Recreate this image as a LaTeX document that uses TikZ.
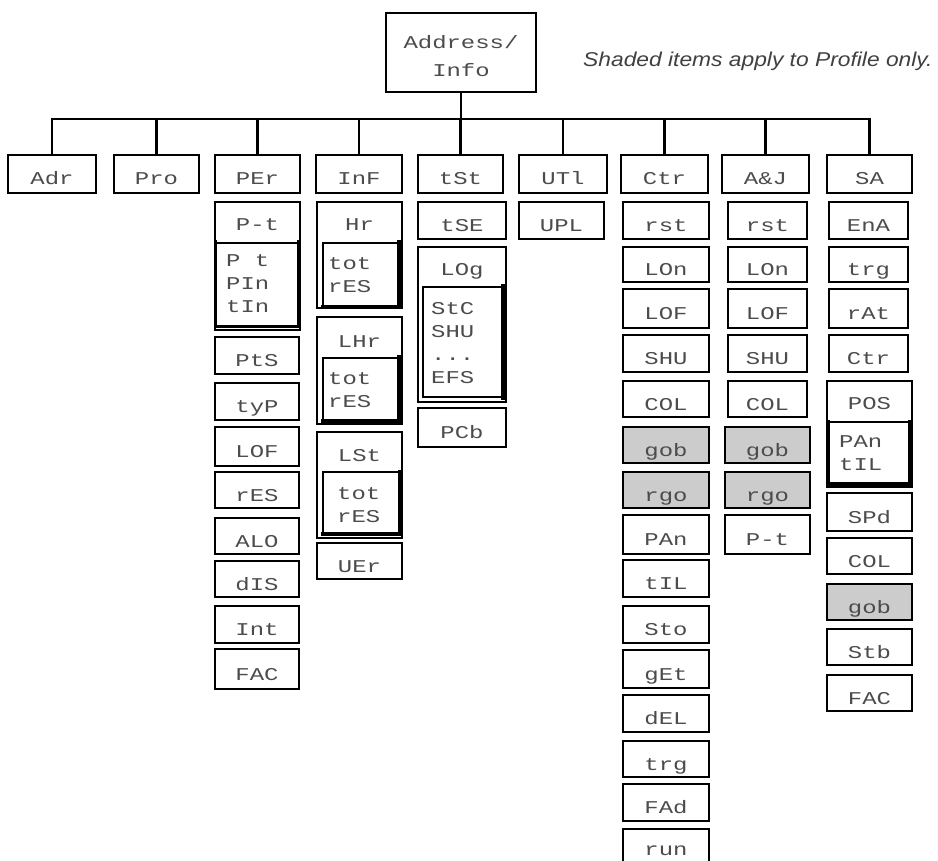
\documentclass[tikz,border=0pt]{standalone}
\usepackage{fontspec}
\newfontfamily\lblfont[FakeStretch=1.33]{Liberation Mono}
\newfontfamily\notefont[FakeStretch=1.14]{Liberation Sans}
\tikzset{
  bx/.style={draw, line width=1.7pt, inner sep=0pt, text height=22pt, text depth=0pt,
             font=\lblfont\fontsize{18}{23}\selectfont, text=black!70},
  shaded/.style={fill=black!20},
  grp/.style={draw, line width=1.7pt, inner sep=0pt},
  inr/.style={draw, line width=1.5pt, inner sep=0pt},
  shadowline/.style={line width=3.5pt, line cap=rect},
  hdr/.style={anchor=base, inner sep=0pt, font=\lblfont\fontsize{18}{23}\selectfont, text=black!70},
  itxt/.style={anchor=north west, inner sep=0pt, align=left, font=\lblfont\fontsize{18}{23}\selectfont, text=black!70},
  conn/.style={line width=2.6pt},
  note/.style={anchor=base west, inner sep=0pt, font=\notefont\itshape\fontsize{20}{24}\selectfont, text=black!75}
}
% box: [options] name, x1, y1, x2, y2, text
\newcommand\bxa[7][]{\node[bx,#1, minimum width={#5-#3}, minimum height={#6-#4}] (#2) at ({(#3+#5)/2},{(#4+#6)/2}) {#7};}
\newcommand\gbox[6][grp]{\node[#1, minimum width={#5-#3}, minimum height={#6-#4}] (#2) at ({(#3+#5)/2},{(#4+#6)/2}) {};}
\begin{document}
\begin{tikzpicture}[x=1pt,y=-1pt]
\useasboundingbox (0,0) rectangle (938,861);
\clip (0,0) rectangle (938,861);

% root
\gbox{root}{386}{13}{536}{92}
\node[itxt, anchor=center, align=center] (rootT) at (461,56) {Address/\\[5pt]Info};
\node[note] (note) at (583,67) {Shaded items apply to Profile only.};

% top row
\bxa{adr}{8}{155}{96}{193}{Adr}
\bxa{pro}{114}{155}{199}{193}{Pro}
\bxa{per}{215}{155}{300}{193}{PEr}
\bxa{inf}{316}{155}{402}{193}{InF}
\bxa{tst}{418}{155}{503}{193}{tSt}
\bxa{utl}{519}{155}{607}{193}{UTl}
\bxa{ctr}{621}{155}{708}{193}{Ctr}
\bxa{aj}{722}{155}{809}{193}{A\&J}
\bxa{sa}{827}{155}{912}{193}{SA}

\coordinate (bar) at (0,119);
\foreach \c in {adr,pro,per,inf,tst,utl,ctr,aj,sa}
  \draw[conn] (root.south) -- (root.south |- bar) -| (\c.north);

% PEr column
\gbox{ptG}{215}{202}{300}{330}
\node[hdr] (ptH) at (257.5,231) {P-t};
\gbox[inr]{ptI}{216}{243}{298}{326}
\draw[shadowline] (ptI.north east) -- (ptI.south east) -- (ptI.south west) -- (ptI.north west);
\node[itxt] (ptT) at (226,254) {P t\\PIn\\tIn};
\bxa{pts}{215}{337}{299}{374}{PtS}
\bxa{typ}{215}{383}{299}{420}{tyP}
\bxa{plof}{215}{427}{299}{466}{LOF}
\bxa{pres}{215}{472}{299}{508}{rES}
\bxa{alo}{215}{518}{299}{554}{ALO}
\bxa{dis}{215}{561}{299}{597}{dIS}
\bxa{int}{215}{606}{299}{643}{Int}
\bxa{pfac}{215}{649}{299}{689}{FAC}

% InF column
\gbox{hrG}{317}{202}{402}{308}
\node[hdr] (hrH) at (359.5,231) {Hr};
\gbox[inr]{hrI}{323}{243}{398}{306}
\draw[shadowline] (hrI.north east) -- (hrI.south east) -- (hrI.south west);
\node[itxt] (hrT) at (328,257) {tot\\rES};
\gbox{lhrG}{317}{317}{402}{424}
\node[hdr] (lhrH) at (359.5,348) {LHr};
\gbox[inr]{lhrI}{323}{358}{398}{420}
\draw[shadowline] (lhrI.north east) -- (lhrI.south east) -- (lhrI.south west);
\node[itxt] (lhrT) at (328,372) {tot\\rES};
\gbox{lstG}{317}{432}{402}{538}
\node[hdr] (lstH) at (359.5,461) {LSt};
\gbox[inr]{lstI}{323}{472}{399}{533}
\draw[shadowline] (lstI.north east) -- (lstI.south east) -- (lstI.south west);
\node[itxt] (lstT) at (337,487) {tot\\rES};
\bxa{uer}{317}{543}{402}{579}{UEr}

% tSt column
\bxa{tse}{418}{202}{506}{239}{tSE}
\gbox{logG}{418}{247}{506}{402}
\node[hdr] (logH) at (462,276) {LOg};
\gbox[inr]{logI}{423}{287}{502}{397}
\draw[shadowline] (logI.north east) -- (logI.south east);
\node[itxt] (logT) at (431,302) {StC\\SHU\\...\\EFS};
\bxa{pcb}{418}{408}{506}{447}{PCb}

% UTl column
\bxa{upl}{519}{202}{604}{239}{UPL}

% Ctr column
\bxa{crst}{623}{202}{709}{239}{rst}
\bxa{clon}{623}{247}{709}{282}{LOn}
\bxa{clof}{623}{289}{709}{328}{LOF}
\bxa{cshu}{623}{335}{709}{372}{SHU}
\bxa{ccol}{623}{381}{709}{417}{COL}
\bxa[shaded]{cgob}{623}{427}{709}{463}{gob}
\bxa[shaded]{crgo}{623}{472}{709}{508}{rgo}
\bxa{cpan}{623}{515}{709}{554}{PAn}
\bxa{ctil}{623}{560}{709}{597}{tIL}
\bxa{csto}{623}{606}{709}{643}{Sto}
\bxa{cget}{623}{650}{709}{688}{gEt}
\bxa{cdel}{623}{695}{709}{732}{dEL}
\bxa{ctrg}{623}{741}{709}{777}{trg}
\bxa{cfad}{623}{784}{709}{821}{FAd}
\bxa[text height=11pt]{crun}{623}{829}{709}{870}{run}

% A&J column
\bxa{arst}{728}{202}{807}{239}{rst}
\bxa{alon}{728}{247}{807}{282}{LOn}
\bxa{alof}{728}{289}{807}{328}{LOF}
\bxa{ashu}{728}{335}{807}{372}{SHU}
\bxa{acol}{728}{381}{807}{417}{COL}
\bxa[shaded]{agob}{725}{427}{810}{463}{gob}
\bxa[shaded]{argo}{725}{472}{810}{508}{rgo}
\bxa{apt}{725}{515}{810}{554}{P-t}

% SA column
\bxa{sena}{829}{202}{908}{239}{EnA}
\bxa{strg}{829}{247}{908}{282}{trg}
\bxa{srat}{829}{289}{908}{328}{rAt}
\bxa{sctr}{829}{335}{908}{372}{Ctr}
\gbox{posG}{827}{381}{912}{487}
\node[hdr] (posH) at (869.5,409) {POS};
\gbox[inr]{posI}{829}{422}{909}{483}
\draw[shadowline] (posI.north east) -- (posI.south east) -- (posI.south west) -- (posI.north west);
\node[itxt] (posT) at (839,435) {PAn\\tIL};
\bxa{sspd}{827}{493}{912}{531}{SPd}
\bxa{scol}{827}{538}{912}{574}{COL}
\bxa[shaded]{sgob}{827}{584}{912}{620}{gob}
\bxa{sstb}{827}{629}{912}{665}{Stb}
\bxa{sfac}{827}{675}{912}{711}{FAC}
\end{tikzpicture}
\end{document}
